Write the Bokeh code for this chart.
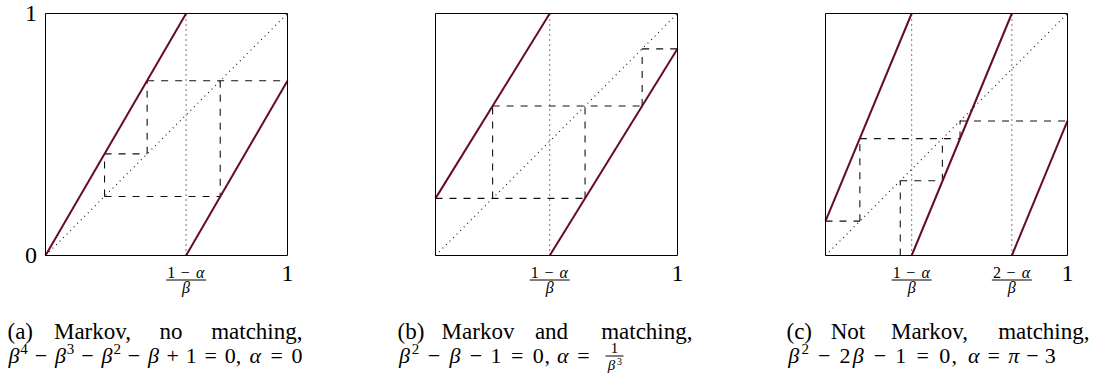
from bokeh.plotting import figure
from bokeh.layouts import row
from bokeh.models import Range1d
from bokeh.core.properties import value
from bokeh.embed import file_html
from bokeh.resources import INLINE

# ---------------- data ----------------
# panel (a): beta^4-beta^3-beta^2-beta+1=0, alpha=0
a_branch_x = [[0.0, 0.581], [0.581, 1.0]]
a_branch_y = [[0.0, 1.0], [0.0, 0.722]]
a_disc_x = [0.581]
a_disc_num = ["1−α"]
a_orbit_x = [[0.420, 1.0], [0.722, 0.722], [0.244, 0.722], [0.244, 0.244], [0.244, 0.420], [0.420, 0.420]]
a_orbit_y = [[0.722, 0.722], [0.722, 0.244], [0.244, 0.244], [0.244, 0.420], [0.420, 0.420], [0.420, 0.722]]

# panel (b): beta^2-beta-1=0, alpha=1/beta^3
b_branch_x = [[0.0, 0.472], [0.472, 1.0]]
b_branch_y = [[0.236, 1.0], [0.0, 0.854]]
b_disc_x = [0.472]
b_disc_num = ["1−α"]
b_orbit_x = [[0.0, 0.618], [0.236, 0.236], [0.236, 0.854], [0.618, 0.618], [0.854, 0.854], [0.854, 1.0]]
b_orbit_y = [[0.236, 0.236], [0.236, 0.618], [0.618, 0.618], [0.236, 0.618], [0.618, 0.854], [0.854, 0.854]]

# panel (c): beta^2-2beta-1=0, alpha=pi-3
c_branch_x = [[0.0, 0.356], [0.356, 0.770], [0.770, 1.0]]
c_branch_y = [[0.142, 1.0], [0.0, 1.0], [0.0, 0.556]]
c_disc_x = [0.356, 0.770]
c_disc_num = ["1−α", "2−α"]
c_orbit_x = [[0.0, 0.142], [0.142, 0.142], [0.142, 0.556], [0.556, 0.556], [0.556, 1.0],
             [0.483, 0.483], [0.309, 0.483], [0.309, 0.309]]
c_orbit_y = [[0.142, 0.142], [0.142, 0.483], [0.483, 0.483], [0.483, 0.556], [0.556, 0.556],
             [0.309, 0.483], [0.309, 0.309], [0.0, 0.309]]

diag_x = [0.0, 1.0]
diag_y = [0.0, 1.0]
y_ticks = [0, 1]
y_tick_labels = ["0", "1"]
x_ticks = [1]
x_tick_labels = ["1"]
disc_den = "β"

a_cap1 = ["(a)", "Markov,", "no", "matching,"]
a_cap2 = ["β⁴−β³−β²−β+1 = 0,", "α = 0"]
b_cap1 = ["(b)", "Markov", "and", "matching,"]
b_cap2 = ["β² − β − 1 = 0,", "α ="]
b_cap_frac = ["1", "β³"]
c_cap1 = ["(c)", "Not", "Markov,", "matching,"]
c_cap2 = ["β² − 2β − 1 = 0,", "α = π − 3"]

# ---------------- layout / style (page pixels) ----------------
FONT = value("Liberation Serif")
MAROON = "#660a2a"
H = 374
BOX = 242
BOX_TOP = 13
BOX_BOTTOM = BOX_TOP + BOX
MID = 0.34  # distance from baseline to glyph centre, in em

panels = [
    dict(start=0, width=390, fx=45, bx=a_branch_x, by=a_branch_y, disc=a_disc_x, num=a_disc_num,
         ox=a_orbit_x, oy=a_orbit_y, cap1=a_cap1, cap2=a_cap2, frac=None,
         cap1_pos=[(7, "left"), (92, "center"), (170.5, "center"), (302, "right")],
         cap2_span=[(7, 241), (248, 302)]),
    dict(start=390, width=390, fx=435, bx=b_branch_x, by=b_branch_y, disc=b_disc_x, num=b_disc_num,
         ox=b_orbit_x, oy=b_orbit_y, cap1=b_cap1, cap2=b_cap2, frac=b_cap_frac,
         cap1_pos=[(397, "left"), (477.5, "center"), (551, "center"), (692, "right")],
         cap2_span=[(397, 550), (556, 597)], frac_x=614),
    dict(start=780, width=314, fx=825, bx=c_branch_x, by=c_branch_y, disc=c_disc_x, num=c_disc_num,
         ox=c_orbit_x, oy=c_orbit_y, cap1=c_cap1, cap2=c_cap2, frac=None,
         cap1_pos=[(786, "left"), (847.5, "center"), (929, "center"), (1089, "right")],
         cap2_span=[(786, 957), (967, 1055)]),
]

SUP = {"⁴": "4", "³": "3", "²": "2"}
KIND_W = {"v": 0.6, "s": 0.36, "b": 1.222, "r": 1.334, "d": 0.5, "p": 0.278}


def tokenize(s):
    out = []
    for ch in s:
        if ch == " ":
            continue
        if ch in SUP:
            out.append((SUP[ch], "s"))
        elif ch.isdigit():
            out.append((ch, "d"))
        elif ch in "−+":
            out.append((ch, "b"))
        elif ch == "=":
            out.append((ch, "r"))
        elif ch == ",":
            out.append((ch, "p"))
        else:
            out.append((ch, "v"))
    return out


def add_text(p, x, y, text, size, align="left", style="normal"):
    p.text(x=[x], y=[y], text=[text], text_font=FONT, text_font_size=value(size),
           text_align=align, text_baseline="middle", text_font_style=style, text_color="black")


def place_math(p, s, x0, x1, base, size, dx, dy):
    toks = tokenize(s)
    widths = [KIND_W[k] for _, k in toks]
    scale = (x1 - x0) / sum(widths)
    cum = 0.0
    for (t, k), w in zip(toks, widths):
        cx = x0 + (cum + w / 2) * scale
        cum += w
        if k == "s":
            sz = round(size * 0.68)
            b = base - size * 0.40
        else:
            sz = size
            b = base
        style = "italic" if k == "v" else "normal"
        add_text(p, dx(cx), dy(b - MID * sz), t, f"{sz}px", align="center", style=style)


figs = []
for P in panels:
    fx = P["fx"]

    def dx(px):
        return (px - fx) / BOX

    def dy(py):
        return (BOX_BOTTOM - py) / BOX

    s, W = P["start"], P["width"]
    p = figure(width=W, height=H,
               x_range=Range1d(dx(s), dx(s + W)), y_range=Range1d(dy(H), dy(0)),
               output_backend="svg", toolbar_location=None, title=None,
               x_axis_location=None, y_axis_location=None,
               min_border=0)
    p.grid.visible = False
    p.outline_line_color = None
    p.background_fill_color = "white"
    p.border_fill_color = "white"

    # diagonal and discontinuity guides
    p.line(diag_x, diag_y, line_color="#111111", line_width=1.1, line_dash="1 4")
    p.multi_line([[d, d] for d in P["disc"]], [[0, 1] for _ in P["disc"]],
                 line_color="#111111", line_width=1.1, line_dash="1 4")
    # orbit (dashed)
    p.multi_line(P["ox"], P["oy"], line_color="#111111", line_width=1.1, line_dash="7 7")
    # map branches
    p.multi_line(P["bx"], P["by"], line_color=MAROON, line_width=2)
    # unit box
    p.multi_line([[0, 1, 1, 0, 0]], [[0, 0, 1, 1, 0]], line_color="black", line_width=1)

    # tick labels 0 / 1
    for t, lab in zip(y_ticks, y_tick_labels):
        add_text(p, dx(30.5), t, lab, "24px", align="center")
    for t, lab in zip(x_ticks, x_tick_labels):
        add_text(p, t, dy(272.5), lab, "24px", align="center")

    # fraction tick labels (k-alpha)/beta
    for d, num in zip(P["disc"], P["num"]):
        cpx = fx + d * BOX
        place_math(p, num, cpx - 19, cpx + 19, 277, 16, dx, dy)
        p.line([dx(cpx - 20), dx(cpx + 20)], [dy(279.5)] * 2, line_color="black", line_width=1)
        add_text(p, d, dy(287), disc_den, "16px", align="center", style="italic")

    # caption line 1 (justified words)
    for word, (px, al) in zip(P["cap1"], P["cap1_pos"]):
        add_text(p, dx(px), dy(338.5 - MID * 23), word, "23px", align=al)
    # caption line 2 (math)
    for piece, (x0, x1) in zip(P["cap2"], P["cap2_span"]):
        place_math(p, piece, x0, x1, 362.5, 22, dx, dy)
    if P["frac"]:
        cpx = P["frac_x"]
        add_text(p, dx(cpx), dy(353 - MID * 15), P["frac"][0], "15px", align="center")
        p.line([dx(cpx - 9), dx(cpx + 9)], [dy(355.5)] * 2, line_color="black", line_width=1)
        place_math(p, P["frac"][1], cpx - 8, cpx + 8, 370, 15, dx, dy)
    figs.append(p)

layout = row(*figs)
open("out.html", "w").write(file_html(layout, INLINE))
